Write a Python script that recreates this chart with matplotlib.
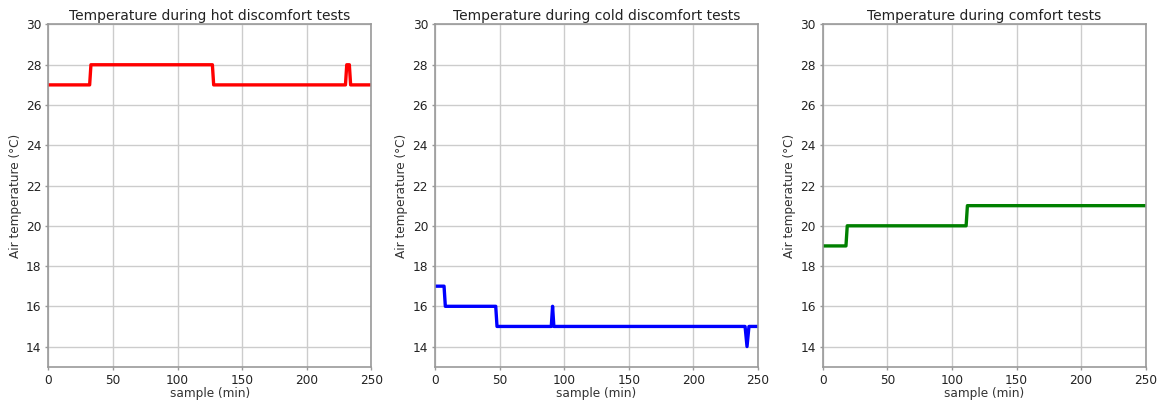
import matplotlib
matplotlib.use("Agg")
import matplotlib.pyplot as plt

# breakpoints of the step-like temperature traces (sample minute, degC)
hot_x = [0, 32, 33, 127, 128, 230, 231, 233, 234, 250]
hot_y = [27, 27, 28, 28, 27, 27, 28, 28, 27, 27]

cold_x = [0, 7, 8, 47, 48, 90, 91, 92, 240, 241.5, 243, 250]
cold_y = [17, 17, 16, 16, 15, 15, 16, 15, 15, 14, 15, 15]

comf_x = [0, 18, 19, 111, 112, 250]
comf_y = [19, 19, 20, 20, 21, 21]

titles = ["Temperature during hot discomfort tests",
          "Temperature during cold discomfort tests",
          "Temperature during comfort tests"]
colors = ["red", "blue", "green"]
xs = [hot_x, cold_x, comf_x]
ys = [hot_y, cold_y, comf_y]
yticks = [14, 16, 18, 20, 22, 24, 26, 28, 30]
xticks = [0, 50, 100, 150, 200, 250]

W, H = 1161, 401
fig = plt.figure(figsize=(W / 100, H / 100), dpi=100)
lefts = [48.3, 435.0, 822.7]
aw = 323.0
top, bot = 24.5, 366.7
for i in range(3):
    ax = fig.add_axes([lefts[i] / W, 1 - bot / H, aw / W, (bot - top) / H])
    ax.plot(xs[i], ys[i], color=colors[i], lw=2.4)
    ax.set_xlim(0, 250)
    ax.set_ylim(13, 30)
    ax.set_xticks(xticks)
    ax.set_yticks(yticks)
    ax.grid(True, color="#cccccc", lw=1.0)
    ax.set_axisbelow(True)
    for s in ax.spines.values():
        s.set_color("#999999")
        s.set_linewidth(1.2)
    ax.tick_params(labelsize=8.7, length=2.5, width=1, pad=2.5,
                   colors="#999999", labelcolor="#222222")
    ax.set_title(titles[i], fontsize=10, color="#222222", pad=3)
    ax.set_xlabel("sample (min)", fontsize=8.7, color="#333333", labelpad=0)
    ax.set_ylabel("Air temperature (°C)", fontsize=8.7, color="#333333", labelpad=3)

fig.savefig("out.png", dpi=100)
